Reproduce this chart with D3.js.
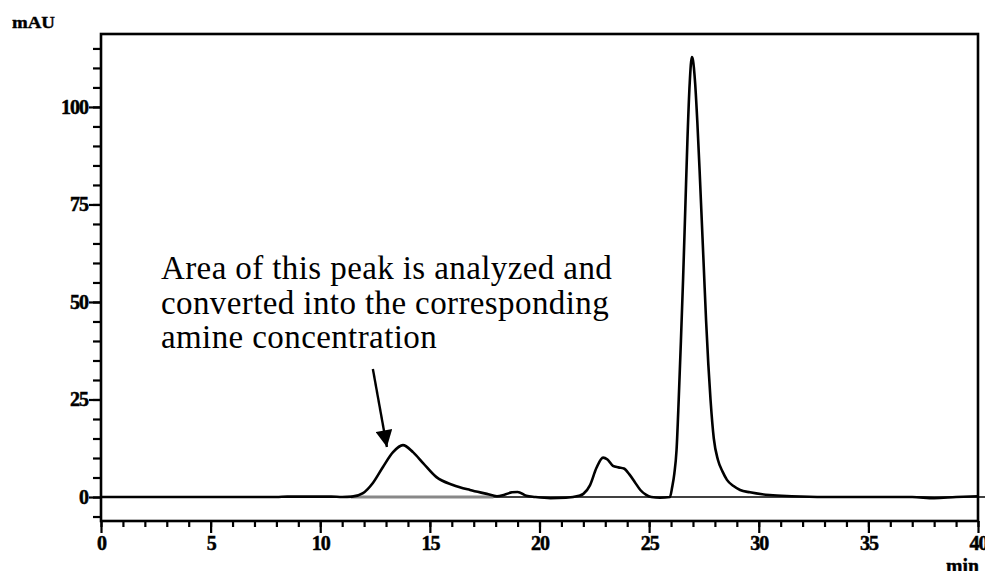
<!DOCTYPE html>
<html>
<head>
<meta charset="utf-8">
<script src="https://cdn.jsdelivr.net/npm/d3@7"></script>
<style>
  body { margin: 0; background: #fff; }
  svg { display: block; }
</style>
</head>
<body>
<svg width="985" height="571"></svg>
<script>
// chromatogram trace (time in min, signal in mAU)
const times = [0, 2, 4, 6, 8, 8.5, 9.5, 10.5, 11.0, 11.45, 11.95, 12.4, 12.86, 13.32, 13.77, 14.23, 14.69,
  15.3, 16.05, 16.83, 17.6, 18.06, 18.4, 18.75, 19.0, 19.4, 19.8, 20.5, 21.2, 21.8, 22.0, 22.3, 22.6,
  22.9, 23.1, 23.35, 23.6, 23.85, 24.1, 24.35, 24.6, 24.85, 25.1, 25.5, 25.95, 26.05, 26.15, 26.25, 26.35,
  26.45, 26.55, 26.65, 26.75, 26.85, 26.95, 27.0, 27.1, 27.2, 27.3, 27.4, 27.5, 27.6, 27.7, 27.8, 27.95,
  28.14, 28.35, 28.55, 28.85, 29.15, 29.6, 30.5, 31.5, 33, 35, 37, 38, 39, 40];
const signal = [0, 0, 0, 0, 0, 0.1, 0.1, 0.1, 0, 0.1, 1.0, 3.6, 7.7, 11.5, 13.3, 11.5, 8.7,
  5.1, 3.1, 1.8, 0.8, 0.2, 0.6, 1.2, 1.3, 0.3, 0, -0.3, -0.2, 0.3, 0.8, 3.0, 7.5,
  10.1, 9.6, 8.0, 7.6, 7.3, 5.8, 3.8, 1.8, 0.6, 0, -0.2, 0, 2.5, 6, 12, 25,
  40, 56, 74, 92, 106, 112.8, 112, 106, 96, 84, 71, 58, 45, 34, 25, 15,
  9.5, 6.5, 4.4, 2.8, 1.8, 1.2, 0.5, 0.2, 0, 0, 0, -0.3, 0, 0.2];

// integrated baseline under the first peak
const baseStart = 11.4, baseEnd = 17.9;

const xMajor = [0, 5, 10, 15, 20, 25, 30, 35, 40];
const xMinor = d3.range(0, 41, 1);
const yMajor = [0, 25, 50, 75, 100];
const yMinor = d3.range(-5, 116, 5);

const noteLines = ["Area of this peak is analyzed and",
  "converted into the corresponding",
  "amine concentration"];
// arrow in data units: tail, tip
const arrowTail = [12.4, 32.8], arrowTip = [13.04, 12.8];

const font = "'Liberation Serif', 'Times New Roman', serif";
const svg = d3.select("svg");

const x = d3.scaleLinear().domain([0, 40]).range([101, 978]);
const y = d3.scaleLinear().domain([-6.15, 118.7]).range([521, 34]);

// ticks
function styleAxis(g) {
  g.select(".domain").remove();
  g.selectAll("line").attr("stroke", "#000").attr("stroke-width", 2.2);
  g.selectAll("text").attr("font-family", font).attr("font-weight", "bold")
    .attr("font-size", 20).attr("letter-spacing", -1).attr("fill", "#000")
    .attr("stroke", "#000").attr("stroke-width", 0.5);
}

svg.append("g").attr("transform", `translate(0,${y.range()[0]})`)
  .call(d3.axisBottom(x).tickValues(xMinor).tickSize(6).tickFormat(""))
  .call(styleAxis);
svg.append("g").attr("transform", `translate(0,${y.range()[0]})`)
  .call(d3.axisBottom(x).tickValues(xMajor).tickSize(12).tickPadding(3).tickFormat(d3.format("d")))
  .call(styleAxis);
svg.append("g").attr("transform", `translate(${x.range()[0]},0)`)
  .call(d3.axisLeft(y).tickValues(yMinor).tickSize(8).tickFormat(""))
  .call(styleAxis);
svg.append("g").attr("transform", `translate(${x.range()[0]},0)`)
  .call(d3.axisLeft(y).tickValues(yMajor).tickSize(12).tickPadding(1).tickFormat(d3.format("d")))
  .call(styleAxis);

// zero line
svg.append("line")
  .attr("x1", x(0)).attr("x2", x(40) + 7)
  .attr("y1", y(0)).attr("y2", y(0))
  .attr("stroke", "#000").attr("stroke-width", 1.6);

// integration baseline
svg.append("line")
  .attr("x1", x(baseStart)).attr("x2", x(baseEnd))
  .attr("y1", y(0)).attr("y2", y(0))
  .attr("stroke", "#888").attr("stroke-width", 3.2);

// frame
svg.append("rect")
  .attr("x", x(0)).attr("y", y.range()[1])
  .attr("width", x(40) - x(0)).attr("height", y.range()[0] - y.range()[1])
  .attr("fill", "none").attr("stroke", "#000").attr("stroke-width", 2.6);

// trace
const pts = times.map((t, i) => [t, signal[i]]);
svg.append("path")
  .datum(pts)
  .attr("d", d3.line().x(d => x(d[0])).y(d => y(d[1])).curve(d3.curveMonotoneX))
  .attr("fill", "none").attr("stroke", "#000").attr("stroke-width", 2.6)
  .attr("stroke-linejoin", "round");

// axis titles
svg.append("text").attr("x", 12).attr("y", 28).text("mAU")
  .attr("font-family", font).attr("font-weight", "bold").attr("font-size", 17)
  .attr("stroke", "#000").attr("stroke-width", 0.4)
  .attr("textLength", 43).attr("lengthAdjust", "spacingAndGlyphs");
svg.append("text").attr("x", 946).attr("y", 573).text("min")
  .attr("font-family", font).attr("font-weight", "bold").attr("font-size", 20)
  .attr("stroke", "#000").attr("stroke-width", 0.4)
  .attr("textLength", 33).attr("lengthAdjust", "spacingAndGlyphs");

// annotation
svg.append("text")
  .attr("font-family", font).attr("font-size", 33).attr("letter-spacing", 0.4).attr("fill", "#000")
  .selectAll("tspan").data(noteLines).join("tspan")
  .attr("x", 161).attr("y", (d, i) => 279 + i * 34.5)
  .text(d => d);

svg.append("defs").append("marker")
  .attr("id", "head").attr("viewBox", "0 0 10 10")
  .attr("refX", 10).attr("refY", 5)
  .attr("markerWidth", 8).attr("markerHeight", 7)
  .attr("markerUnits", "strokeWidth").attr("orient", "auto")
  .append("path").attr("d", "M0,0 L10,5 L0,10 Z").attr("fill", "#000");

svg.append("line")
  .attr("x1", x(arrowTail[0])).attr("y1", y(arrowTail[1]))
  .attr("x2", x(arrowTip[0])).attr("y2", y(arrowTip[1]))
  .attr("stroke", "#000").attr("stroke-width", 2.4)
  .attr("marker-end", "url(#head)");
</script>
</body>
</html>
